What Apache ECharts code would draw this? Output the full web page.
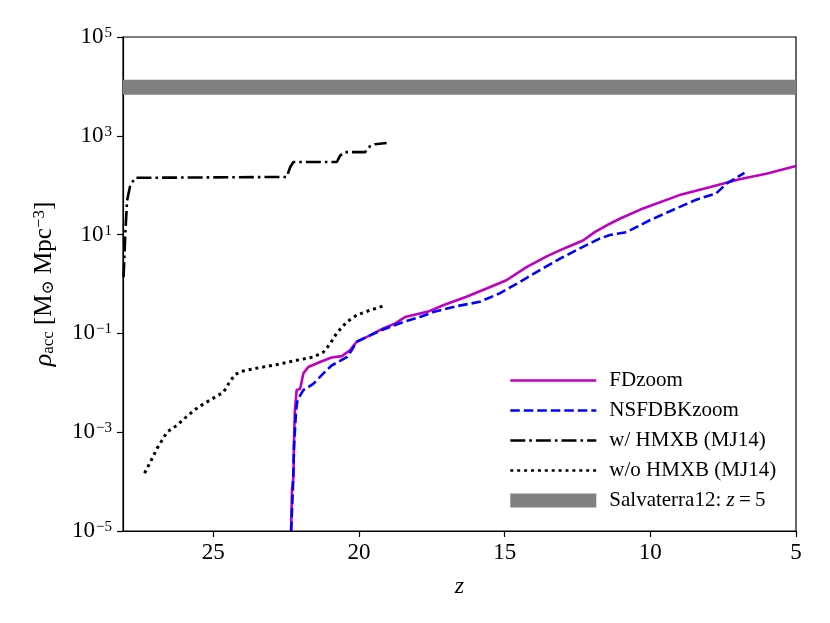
<!DOCTYPE html>
<html><head><meta charset="utf-8">
<script src="https://cdn.jsdelivr.net/npm/echarts@6/dist/echarts.min.js"></script>
<style>html,body{margin:0;padding:0;background:#fff}#c{width:830px;height:623px}</style>
</head><body><div id="c"></div>
<script>
// ---- data ----
const zFD = [22.33, 22.30, 22.25, 22.23, 22.20, 22.14, 22.02, 21.91, 21.74, 21.34, 20.94, 20.59, 20.31, 20.08, 19.62, 19.17, 18.77, 18.42, 18.02, 17.59, 17.11, 16.31, 15.62, 14.94, 14.25, 13.56, 12.88, 12.31, 11.91, 11.39, 11.05, 10.25, 9.0, 7.97, 6.94, 6.02, 5.0];
const rhoFD = [1.0e-5, 6.6e-5, 1.23e-4, 6.9e-4, 2.75e-3, 7.1e-3, 7.6e-3, 0.0155, 0.0209, 0.0263, 0.0324, 0.0347, 0.0457, 0.0676, 0.0912, 0.126, 0.158, 0.214, 0.245, 0.282, 0.372, 0.55, 0.81, 1.19, 2.19, 3.63, 5.5, 7.6, 11.2, 16.6, 20.9, 33.9, 63, 91, 132, 170, 245];

const zNS = [22.33, 22.27, 22.23, 22.16, 22.11, 21.91, 21.57, 21.22, 20.94, 20.42, 20.25, 20.08, 19.62, 19.17, 18.48, 17.91, 17.45, 16.65, 15.85, 15.17, 14.48, 13.79, 13.11, 12.42, 11.97, 11.74, 11.39, 10.82, 10.02, 9.11, 8.42, 7.74, 7.39, 6.77];
const rhoNS = [1.0e-5, 6.6e-5, 5.0e-4, 2.75e-3, 4.5e-3, 7.1e-3, 9.5e-3, 0.0155, 0.0224, 0.0331, 0.0457, 0.0676, 0.0912, 0.120, 0.170, 0.214, 0.27, 0.355, 0.437, 0.646, 1.10, 1.91, 3.24, 5.25, 7.1, 8.3, 9.8, 11.2, 19.5, 33.9, 51, 68, 107, 178];

const zWith = [28.08, 28.02, 27.96, 27.85, 27.68, 22.48, 22.36, 22.25, 20.76, 20.65, 20.48, 19.79, 19.62, 19.45, 19.05];
const rhoWith = [1.38, 10.5, 49, 100, 141, 147, 234, 295, 295, 398, 468, 468, 617, 676, 714];

const zWithout = [27.36, 27.16, 26.93, 26.59, 26.25, 25.91, 25.51, 25.11, 24.65, 24.48, 24.25, 23.97, 23.39, 22.82, 22.14, 21.57, 21.22, 20.99, 20.76, 20.42, 20.08, 19.62, 19.17];
const rhoWithout = [1.48e-4, 2.5e-4, 4.7e-4, 1.0e-3, 1.38e-3, 2.09e-3, 3.24e-3, 4.47e-3, 6.46e-3, 9.5e-3, 0.0148, 0.0174, 0.0204, 0.0234, 0.0285, 0.0331, 0.0417, 0.0617, 0.102, 0.170, 0.234, 0.295, 0.359];

const salvaterraBand = [6.8e3, 1.36e4];

const seriesNames = ['FDzoom', 'NSFDBKzoom', 'w/ HMXB (MJ14)', 'w/o HMXB (MJ14)', 'Salvaterra12: z = 5'];
const xTicks = [5, 10, 15, 20, 25];
const yTicks = [1e-5, 1e-3, 1e-1, 1e1, 1e3, 1e5];
const xRange = [5, 28.1];
const yRange = [1e-5, 1e5];

// ---- chart ----
const F = '"Liberation Serif", "DejaVu Serif", serif';
const zip = (a, b) => a.map((v, i) => [v, b[i]]);
const chart = echarts.init(document.getElementById('c'), null, {renderer: 'canvas'});

function lineSeries(name, z, rho, color, type, width, zi) {
  return {
    name, type: 'line', data: zip(z, rho), symbol: 'none', showSymbol: false,
    color, z: zi, clip: true, animation: false,
    lineStyle: {color, width, type, cap: 'butt'}
  };
}

const option = {
  animation: false,
  backgroundColor: '#fff',
  grid: {left: 123, right: 34, top: 37, bottom: 92, show: true, borderColor: '#000', borderWidth: 1.2, backgroundColor: 'transparent'},
  xAxis: {
    type: 'value', inverse: true, min: xRange[0], max: xRange[1], interval: 5,
    name: 'z', nameLocation: 'middle', nameGap: 44,
    nameTextStyle: {fontFamily: F, fontSize: 24, fontStyle: 'italic', color: '#000'},
    axisLine: {show: true, lineStyle: {color: '#000', width: 1.2}},
    axisTick: {show: true, inside: false, length: 6, lineStyle: {color: '#000', width: 1.2}, customValues: xTicks},
    axisLabel: {fontFamily: F, fontSize: 23, color: '#000', margin: 10, customValues: xTicks,
      formatter: v => String(v)},
    splitLine: {show: false}
  },
  yAxis: {
    type: 'log', logBase: 10, min: yRange[0], max: yRange[1],
    name: '{i|ρ}{sb|acc}{n| [M}{sb|⊙}{n| Mpc}{sp|−3}{n|]}',
    nameLocation: 'middle', nameGap: 66, nameRotate: 90,
    nameTextStyle: {fontFamily: F, fontSize: 25, color: '#000',
      rich: {
        i: {fontFamily: F, fontSize: 26, fontStyle: 'italic', lineHeight: 26, verticalAlign: 'middle', color: '#000'},
        n: {fontFamily: F, fontSize: 25, lineHeight: 26, verticalAlign: 'middle', color: '#000'},
        sb: {fontFamily: F, fontSize: 17, lineHeight: 17, verticalAlign: 'bottom', color: '#000'},
        sp: {fontFamily: F, fontSize: 17, lineHeight: 17, verticalAlign: 'top', color: '#000'}
      }},
    axisLine: {show: true, lineStyle: {color: '#000', width: 1.2}},
    axisTick: {show: true, inside: false, length: 6, lineStyle: {color: '#000', width: 1.2}, customValues: yTicks},
    minorTick: {show: false},
    splitLine: {show: false},
    axisLabel: {
      customValues: yTicks, margin: 11, color: '#000',
      formatter: v => {
        const e = Math.round(Math.log10(v));
        return '{b|10}{s|' + (e < 0 ? '−' : '') + Math.abs(e) + '}';
      },
      rich: {
        b: {fontFamily: F, fontSize: 23, lineHeight: 23, verticalAlign: 'bottom', color: '#000'},
        s: {fontFamily: F, fontSize: 15, lineHeight: 15, verticalAlign: 'top', color: '#000', padding: [0, 0, 0, 1]}
      },
      lineHeight: 23
    }
  },
  legend: {
    orient: 'vertical', left: 509, top: 370, padding: 0, itemWidth: 86, itemHeight: 14, itemGap: 9,
    itemStyle: {opacity: 0},
    lineStyle: {width: 2.6},
    data: [
      {name: seriesNames[0]}, {name: seriesNames[1]}, {name: seriesNames[2]}, {name: seriesNames[3]},
      {name: seriesNames[4], icon: 'rect', itemStyle: {color: '#808080', opacity: 1}}
    ],
    formatter: n => n === seriesNames[4] ? 'Salvaterra12: {i|z}\u2009=\u20095' : n,
    textStyle: {fontFamily: F, fontSize: 21, color: '#000', lineHeight: 20, padding: [0, 0, 0, 8],
      rich: {i: {fontFamily: F, fontSize: 21, fontStyle: 'italic', color: '#000'}}},
    selectedMode: false
  },
  series: [
    lineSeries(seriesNames[0], zFD, rhoFD, '#bf00bf', 'solid', 2.6, 3),
    lineSeries(seriesNames[1], zNS, rhoNS, '#0000ff', [9.5, 4], 2.6, 4),
    lineSeries(seriesNames[2], zWith, rhoWith, '#000000', [15, 4, 2.6, 4], 2.6, 5),
    lineSeries(seriesNames[3], zWithout, rhoWithout, '#000000', [3, 3.9], 3, 6),
    {
      name: seriesNames[4], type: 'line', data: [], symbol: 'none', color: '#808080', z: 2,
      lineStyle: {color: '#808080', width: 0},
      itemStyle: {color: '#808080'},
      markArea: {silent: true, itemStyle: {color: '#808080', opacity: 1},
        data: [[{yAxis: salvaterraBand[0]}, {yAxis: salvaterraBand[1]}]]}
    }
  ]
};
chart.setOption(option);
</script></body></html>
